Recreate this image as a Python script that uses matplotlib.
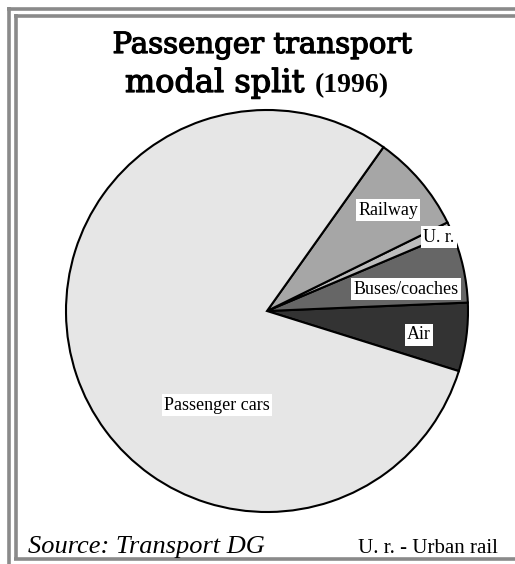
import matplotlib
matplotlib.use("Agg")
import matplotlib.pyplot as plt
import matplotlib.patheffects as pe
from matplotlib.lines import Line2D

# shares of passenger-km, counter-clockwise from the Air/cars boundary
modes = ["Air", "Buses/coaches", "U. r.", "Railway", "Passenger cars"]
shares = [5.5, 5.7, 0.9, 7.9, 80.0]
colors = ["#333333", "#666666", "#bdbdbd", "#a6a6a6", "#e6e6e6"]
label_xy = [(0.756, -0.119), (0.692, 0.109), (0.856, 0.368), (0.602, 0.502), (-0.249, -0.468)]

W, H = 515, 564
fig = plt.figure(figsize=(W / 100, H / 100), dpi=100)

# double grey frame (left/top doubled, bottom inner only)
gray = "#8a8a8a"
def px_line(x0, y0, x1, y1):
    fig.add_artist(Line2D([x0 / W, x1 / W], [1 - y0 / H, 1 - y1 / H],
                          transform=fig.transFigure, color=gray, lw=2.6,
                          solid_capstyle="butt"))
px_line(8.5, 7, 8.5, H)
px_line(7, 8.5, W, 8.5)
px_line(15.5, 14, 15.5, 560)
px_line(14, 15.5, W, 15.5)
px_line(14, 558.5, W, 558.5)

cx, cy, r = 267, 311, 201
ax = fig.add_axes([(cx - r) / W, (H - cy - r) / H, 2 * r / W, 2 * r / H])
startangle = -17.4
ax.pie(shares, colors=colors, startangle=startangle, counterclock=True,
       wedgeprops=dict(edgecolor="black", linewidth=1.5))
ax.set_xlim(-1, 1)
ax.set_ylim(-1, 1)
ax.set_aspect("equal")
ax.axis("off")

for name, (x, y) in zip(modes, label_xy):
    ax.text(x, y, name, ha="center", va="center", fontsize=13,
            family="Liberation Serif",
            bbox=dict(facecolor="white", edgecolor="none", pad=1.5))

# title: semi-bold look via a thin stroke around regular glyphs
thick = [pe.withStroke(linewidth=0.9, foreground="black")]
fig.text(262 / W, 1 - 53 / H, "Passenger transport", ha="center",
         va="baseline", fontsize=21, family="DejaVu Serif", path_effects=thick)
t2 = fig.text(0, 1 - 92 / H, "modal split ", ha="left",
              va="baseline", fontsize=23, family="DejaVu Serif", path_effects=thick)
t3 = fig.text(0, 1 - 92 / H, "(1996)", ha="left",
              va="baseline", fontsize=20, family="Liberation Serif", weight="bold")
fig.canvas.draw()
rend = fig.canvas.get_renderer()
w2 = t2.get_window_extent(renderer=rend).width
w3 = t3.get_window_extent(renderer=rend).width
x0 = 257 - (w2 + w3) / 2
t2.set_x(x0 / W)
t3.set_x((x0 + w2) / W)

fig.text(28 / W, 1 - 553 / H, "Source: Transport DG", ha="left",
         va="baseline", fontsize=19, family="Liberation Serif", style="italic")
fig.text(358 / W, 1 - 553 / H, "U. r. - Urban rail", ha="left",
         va="baseline", fontsize=15, family="Liberation Serif")

fig.savefig("out.png", dpi=100, facecolor="white")
